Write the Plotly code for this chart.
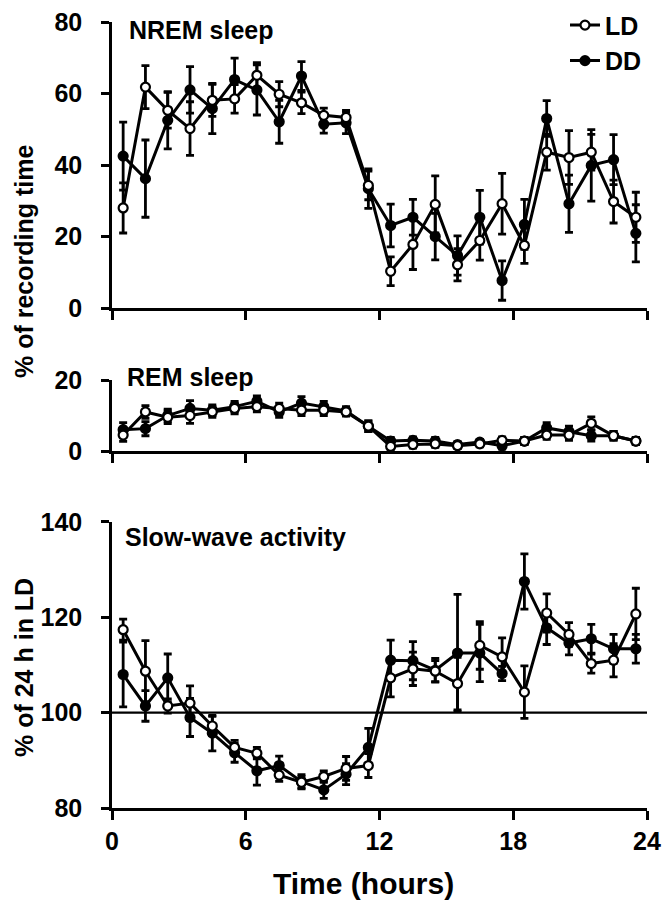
import plotly.graph_objects as go

hours = [h + 0.5 for h in range(24)]

# NREM sleep (% of recording time)
nrem_ld = [28.0, 61.8, 55.3, 50.2, 58.1, 58.5, 65.1, 59.8, 57.4, 53.9, 53.3, 34.3,
           10.3, 17.8, 29.0, 12.1, 18.9, 29.2, 17.5, 43.6, 42.1, 43.6, 29.8, 25.4]
nrem_ld_se = [7.0, 6.0, 5.0, 7.5, 4.5, 4.0, 3.5, 3.5, 3.0, 2.0, 2.0, 4.0,
              4.0, 7.0, 8.0, 4.5, 5.5, 8.5, 5.0, 5.0, 7.5, 5.0, 6.0, 7.0]
nrem_dd = [42.5, 36.2, 52.5, 61.0, 55.8, 63.9, 61.0, 52.1, 64.9, 51.4, 51.8, 33.4,
           23.1, 25.4, 20.0, 14.7, 25.4, 7.7, 23.4, 53.0, 29.2, 39.9, 41.5, 20.9]
nrem_dd_se = [9.5, 10.8, 8.0, 6.5, 7.0, 6.0, 7.0, 6.0, 4.0, 2.5, 3.0, 5.5,
              6.0, 5.0, 6.5, 5.5, 7.5, 5.5, 7.0, 5.0, 8.0, 10.0, 7.0, 8.0]

# REM sleep (% of recording time)
rem_ld = [4.5, 11.0, 9.5, 10.0, 11.0, 12.0, 12.5, 12.0, 11.5, 11.5, 11.0, 7.0,
          1.3, 1.8, 2.0, 1.5, 2.0, 3.0, 2.8, 4.5, 4.5, 7.8, 4.3, 2.8]
rem_ld_se = [1.8, 1.8, 1.8, 2.2, 1.5, 1.5, 1.5, 1.5, 1.5, 1.5, 1.2, 1.5,
             1.0, 1.0, 1.0, 0.8, 0.8, 1.0, 1.0, 1.2, 1.5, 1.8, 1.2, 1.0]
rem_dd = [6.0, 6.3, 10.0, 12.0, 11.5, 12.5, 14.0, 11.0, 13.5, 12.5, 11.3, 7.0,
          2.8, 3.0, 2.8, 1.8, 2.5, 1.5, 2.8, 6.5, 5.5, 4.3, 4.3, 2.8]
rem_dd_se = [2.0, 2.0, 1.8, 2.2, 1.5, 1.5, 1.5, 1.5, 1.8, 1.5, 1.2, 1.5,
             1.0, 1.0, 1.0, 0.8, 0.8, 1.0, 1.0, 1.5, 1.5, 1.5, 1.2, 1.0]

# Slow-wave activity (% of 24 h in LD)
swa_ld = [117.4, 108.7, 101.4, 102.0, 97.2, 92.7, 91.5, 86.9, 85.4, 86.6, 88.3, 88.9,
          107.3, 109.2, 108.7, 106.1, 114.1, 111.7, 104.3, 120.9, 116.4, 110.3, 111.0, 120.7]
swa_ld_se = [2.2, 6.4, 1.5, 3.6, 2.0, 1.5, 1.2, 1.3, 1.2, 1.2, 2.5, 2.5,
             4.0, 3.5, 2.2, 5.5, 5.0, 4.0, 5.5, 4.0, 2.5, 2.0, 3.5, 5.4]
swa_dd = [108.0, 101.4, 107.3, 99.0, 95.7, 91.6, 87.8, 88.9, 85.5, 83.8, 87.1, 92.7,
          111.0, 110.9, 108.9, 112.5, 112.5, 108.2, 127.5, 117.8, 114.6, 115.5, 113.4, 113.4]
swa_dd_se = [6.8, 3.2, 5.0, 4.0, 3.7, 2.0, 3.0, 2.0, 1.5, 1.8, 2.2, 4.0,
             4.2, 4.0, 2.5, 12.3, 6.0, 1.5, 5.8, 3.5, 2.5, 3.0, 3.0, 3.0]

x_ticks = [0, 6, 12, 18, 24]
x_ticklabels = ["0", "6", "12", "18", "24"]

FONT = "Liberation Sans, Arial, sans-serif"
LW = 3

# plot area on the page spans x 112-647, y 22-808
PL, PR, PT, PB = 112, 647, 22, 808


def px(xp):
    return (xp - PL) / (PR - PL)


def py(yp):
    return (PB - yp) / (PB - PT)


fig = go.Figure()


def add_series(y, se, filled, xa, ya, name, show):
    fig.add_trace(go.Scatter(
        x=hours, y=y, xaxis=xa, yaxis=ya, name=name, showlegend=show,
        legendrank=2 if filled else 1,
        mode="lines+markers",
        line=dict(color="black", width=LW),
        marker=dict(symbol="circle", size=9,
                    color="black" if filled else "white",
                    line=dict(color="black", width=2.2)),
        error_y=dict(type="data", array=se, visible=True, color="black",
                     thickness=2.8, width=4),
        cliponaxis=False,
    ))


# NREM panel (x3/y3), REM panel (x2/y2), SWA panel (x/y)
add_series(nrem_dd, nrem_dd_se, True, "x3", "y3", "DD", True)
add_series(nrem_ld, nrem_ld_se, False, "x3", "y3", "LD", True)
add_series(rem_dd, rem_dd_se, True, "x2", "y2", "DD", False)
add_series(rem_ld, rem_ld_se, False, "x2", "y2", "LD", False)
add_series(swa_dd, swa_dd_se, True, "x", "y", "DD", False)
add_series(swa_ld, swa_ld_se, False, "x", "y", "LD", False)

tickfont = dict(family=FONT, size=25, color="black", weight="bold")

xcommon = dict(range=[0, 24], tickvals=x_ticks, showline=True, linecolor="black",
               linewidth=2.5, ticks="outside", ticklen=9, tickwidth=2.5,
               tickcolor="black", showgrid=False, zeroline=False, fixedrange=True,
               automargin=False, ticklabeloverflow="allow")
ycommon = dict(showline=True, linecolor="black", linewidth=2.5, ticks="outside",
               ticklen=8, tickwidth=2.5, tickcolor="black", showgrid=False,
               zeroline=False, tickfont=tickfont, ticklabelstandoff=14,
               automargin=False, ticklabeloverflow="allow", fixedrange=True)

fig.update_layout(
    width=665, height=900,
    margin=dict(l=PL, r=665 - PR, t=PT, b=900 - PB, autoexpand=False),
    paper_bgcolor="white", plot_bgcolor="white",
    font=dict(family=FONT, color="black"),
    xaxis=dict(**xcommon, ticktext=x_ticklabels, showticklabels=True,
               tickfont=tickfont, ticklabelstandoff=0, anchor="y"),
    xaxis2=dict(**xcommon, showticklabels=False, anchor="y2", matches="x"),
    xaxis3=dict(**xcommon, showticklabels=False, anchor="y3", matches="x"),
    yaxis=dict(**ycommon, domain=[0.0, 0.3639], range=[80, 140],
               tickvals=[80, 100, 120, 140], anchor="x"),
    yaxis2=dict(**ycommon, domain=[0.4542, 0.5445], range=[0, 20],
                tickvals=[0, 20], anchor="x2"),
    yaxis3=dict(**ycommon, domain=[0.636, 1.0], range=[0, 80],
                tickvals=[0, 20, 40, 60, 80], anchor="x3"),
    showlegend=True,
    legend=dict(x=1.0, xanchor="right", y=1.025, yanchor="top",
                font=dict(family=FONT, size=25, color="black", weight="bold"),
                bgcolor="rgba(0,0,0,0)", itemwidth=30, tracegroupgap=0),
    shapes=[dict(type="line", xref="x", yref="y", x0=0, x1=24, y0=100, y1=100,
                 line=dict(color="black", width=2.2), layer="below")],
)

anno_font = dict(family=FONT, size=25, color="black", weight="bold")
fig.add_annotation(text="NREM sleep", xref="paper", yref="paper", x=px(127), y=py(30),
                   xanchor="left", yanchor="middle", showarrow=False, font=anno_font)
fig.add_annotation(text="REM sleep", xref="paper", yref="paper", x=px(125), y=py(377),
                   xanchor="left", yanchor="middle", showarrow=False, font=anno_font)
fig.add_annotation(text="Slow-wave activity", xref="paper", yref="paper", x=px(123), y=py(537),
                   xanchor="left", yanchor="middle", showarrow=False, font=anno_font)

title_font = dict(family=FONT, size=25, color="black", weight="bold")
fig.add_annotation(text="% of recording time", xref="paper", yref="paper",
                   x=px(24), y=py(262), textangle=-90,
                   xanchor="center", yanchor="middle", showarrow=False, font=title_font)
fig.add_annotation(text="% of 24 h in LD", xref="paper", yref="paper",
                   x=px(24), y=py(668), textangle=-90,
                   xanchor="center", yanchor="middle", showarrow=False, font=title_font)
fig.add_annotation(text="Time (hours)", xref="paper", yref="paper",
                   x=px(363), y=py(883),
                   xanchor="center", yanchor="middle", showarrow=False,
                   font=dict(family=FONT, size=30, color="black", weight="bold"))

# remove the default page margin so the figure sits at the window's top-left corner
fig.write_html("out.html", config={"displayModeBar": False},
               post_script="document.body.style.margin='0';document.body.style.overflow='hidden';")
